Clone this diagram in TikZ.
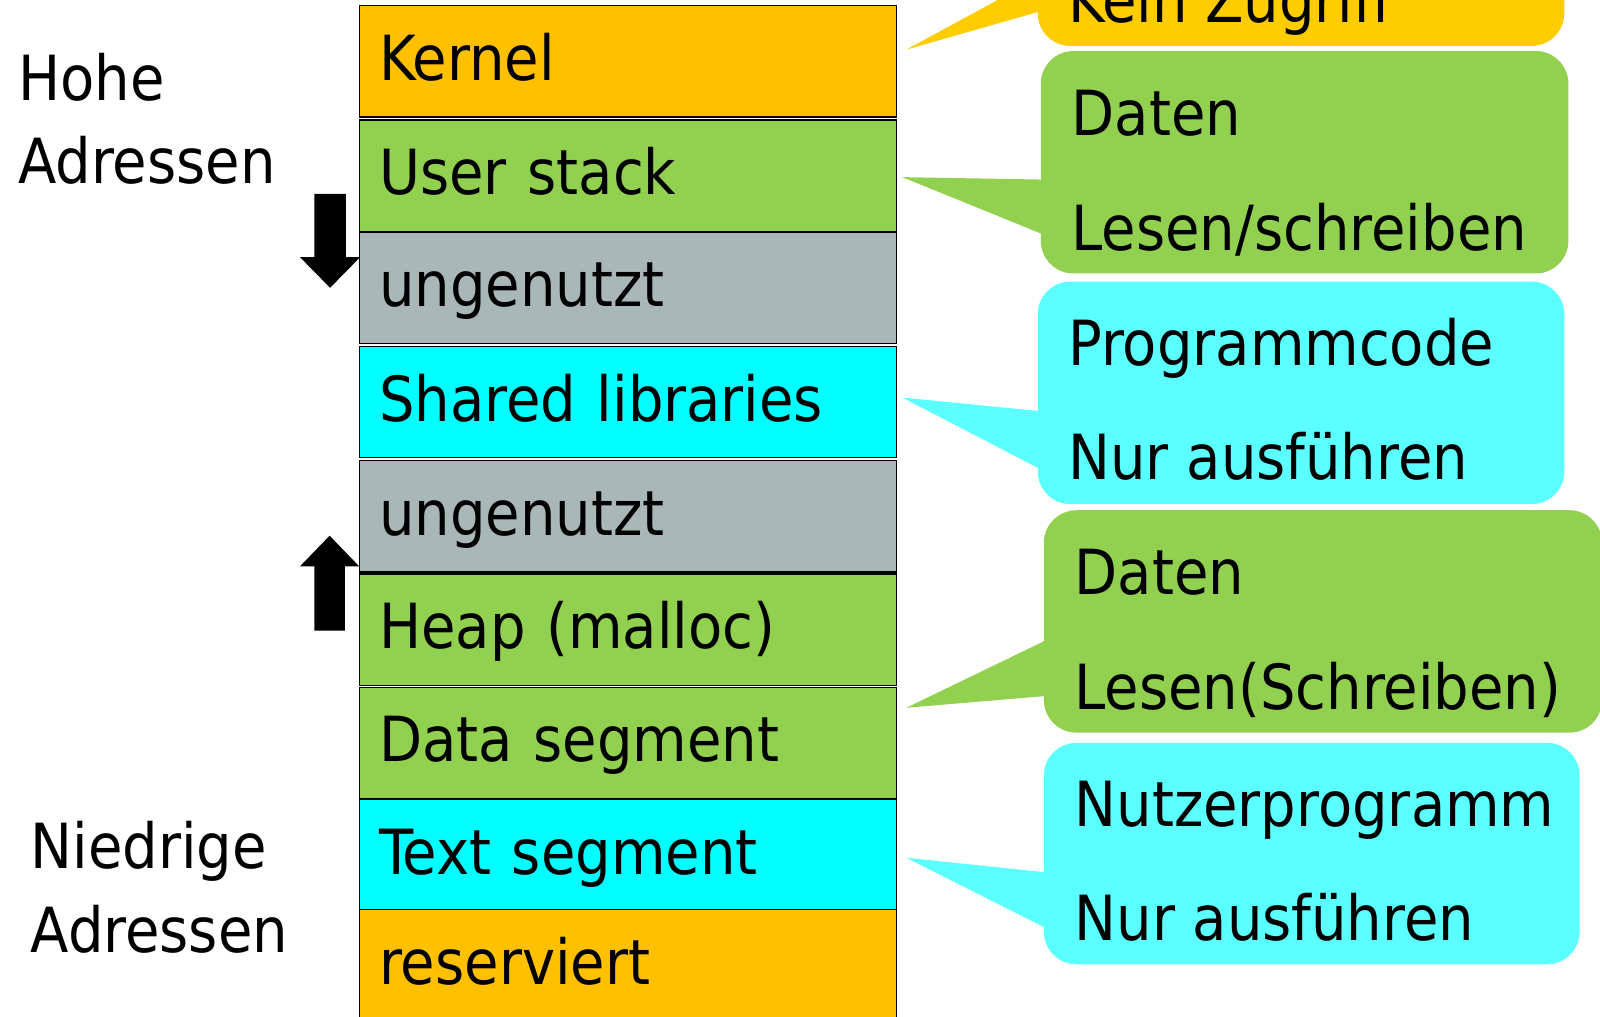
\documentclass[tikz,border=0pt]{standalone}
\usepackage{fontspec}
\setmainfont{DejaVu Sans Condensed}
\usetikzlibrary{calc}

\definecolor{kernelorange}{HTML}{FFC000}
\definecolor{datagreen}{HTML}{92D050}
\definecolor{freegrey}{HTML}{AAB7B7}
\definecolor{codecyan}{HTML}{00FFFF}
\definecolor{bubbleyellow}{HTML}{FFCC00}
\definecolor{bubblecyan}{HTML}{5CFFFF}

\tikzset{
  segment/.style={draw, line width=1.2pt, anchor=north west, align=left,
    minimum height=109pt, text width=488pt, inner xsep=19pt, inner ysep=0pt,
    text height=50pt, text depth=13pt, font=\fontsize{61}{73}\selectfont},
  bubble/.style={rounded corners=32pt},
  note/.style={anchor=base west, inner sep=0pt, font=\fontsize{61}{73}\selectfont},
}

\begin{document}
\begin{tikzpicture}[x=1pt,y=-1pt]
  \path[use as bounding box, clip] (0,0) rectangle (1568,996);

  % address space, top to bottom
  \foreach \name/\y/\col/\txt in {
    kernel/5/kernelorange/Kernel,
    stack/117/datagreen/User stack,
    free1/227/freegrey/ungenutzt,
    libs/339/codecyan/Shared libraries,
    free2/451/freegrey/ungenutzt,
    heap/562/datagreen/Heap (malloc),
    data/673/datagreen/Data segment,
    text/783/codecyan/Text segment,
    res/891/kernelorange/reserviert
  }
  {
    \node[segment, fill=\col] (\name) at (352,\y) {\txt};
  }

  \node[note] (hi1) at (18,98) {Hohe};
  \node[note] (hi2) at (18,180) {Adressen};
  \node[note] (lo1) at (30,851) {Niedrige};
  \node[note] (lo2) at (30,933) {Adressen};

  % stack grows down, heap grows up
  \fill (308,190) -- (339,190) -- (339,252) -- (353,252) -- (323.5,282)
    -- (294,252) -- (308,252) -- cycle;
  \fill (308,618) -- (338,618) -- (338,555) -- (352,555) -- (323,525)
    -- (294,555) -- (308,555) -- cycle;

  % access rights
  \fill[bubble, bubbleyellow] (1017,-60) rectangle (1533,45);
  \fill[bubbleyellow] ($(kernel.east)+(9,-11.5)$) -- (1020,11) -- (1020,-23) -- cycle;
  \node[note] (kz) at (1047,22) {Kein Zugriff};

  \fill[bubble, datagreen] (1020,50) rectangle (1537,268);
  \fill[datagreen] ($(stack.east)+(5,1.5)$) -- (1023,176) -- (1023,230) -- cycle;
  \node[note] (rw1) at (1050,133) {Daten};
  \node[note] (rw2) at (1050,245) {Lesen/schreiben};

  \fill[bubble, bubblecyan] (1017,276) rectangle (1533,494);
  \fill[bubblecyan] ($(libs.east)+(5,-4.5)$) -- (1020,403) -- (1020,460) -- cycle;
  \node[note] (x1) at (1047,358) {Programmcode};
  \node[note] (x2) at (1047,470) {Nur ausführen};

  \fill[bubble, datagreen] (1023,500) rectangle (1570,718);
  \fill[datagreen] ($(data.east)+(9,-34.5)$) -- (1026,627) -- (1026,682) -- cycle;
  \node[note] (rw3) at (1053,583) {Daten};
  \node[note] (rw4) at (1053,695) {Lesen(Schreiben)};

  \fill[bubble, bubblecyan] (1023,728) rectangle (1548,945);
  \fill[bubblecyan] ($(text.east)+(9,2.5)$) -- (1026,855) -- (1026,910) -- cycle;
  \node[note] (x3) at (1053,810) {Nutzerprogramm};
  \node[note] (x4) at (1053,922) {Nur ausführen};
\end{tikzpicture}
\end{document}
